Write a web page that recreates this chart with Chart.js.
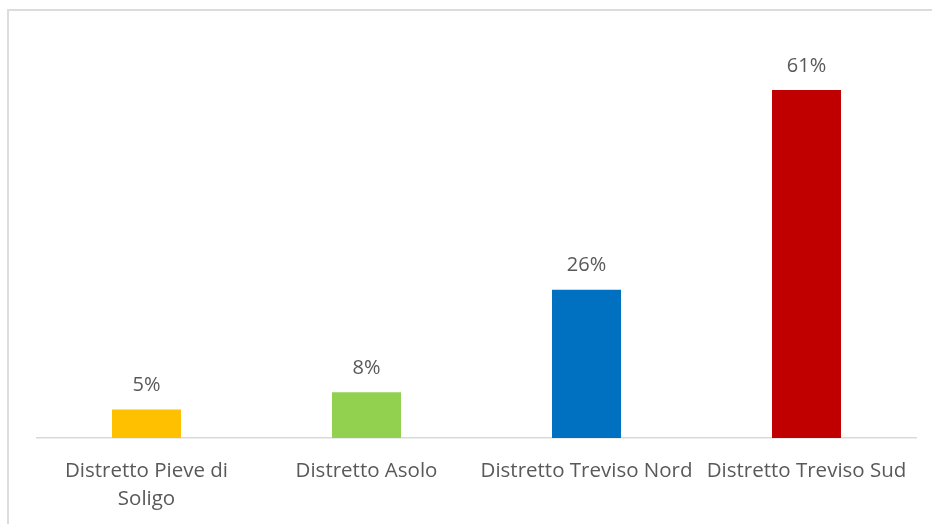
<!DOCTYPE html>
<html>
<head>
<meta charset="utf-8">
<script src="https://cdn.jsdelivr.net/npm/chart.js@4/dist/chart.umd.min.js"></script>
<style>
  html, body { margin: 0; padding: 0; background: #fff; overflow: hidden; }
  .frame {
    position: absolute; left: 7px; top: 9px; width: 960px; height: 560px;
    border: 2px solid #dcdcdc; box-sizing: border-box;
  }
  .wrap { position: absolute; left: 0; top: 0; width: 932px; height: 524px; }
</style>
</head>
<body>
<div class="frame"></div>
<div class="wrap"><canvas id="distrettiChart"></canvas></div>
<script>
const categories = [
  ["Distretto Pieve di", "Soligo"],
  "Distretto Asolo",
  "Distretto Treviso Nord",
  "Distretto Treviso Sud",
];
const shares = [5, 8, 26, 61];
const barColors = ["#FFC000", "#92D050", "#0070C0", "#C00000"];

const FONT = "'Open Sans', sans-serif";
const TEXT = "#595959";

// percent labels above each bar
const valueLabels = {
  id: "valueLabels",
  afterDatasetsDraw(chart) {
    const c = chart.ctx;
    const meta = chart.getDatasetMeta(0);
    c.save();
    c.font = "20px " + FONT;
    c.fillStyle = TEXT;
    c.textAlign = "center";
    c.textBaseline = "middle";
    meta.data.forEach((bar, i) => {
      c.fillText(shares[i] + "%", bar.x, bar.y - 24);
    });
    c.restore();
  },
};

new Chart(document.getElementById("distrettiChart"), {
  type: "bar",
  data: {
    labels: categories,
    datasets: [
      {
        data: shares,
        backgroundColor: barColors,
        borderWidth: 0,
        categoryPercentage: 1,
        barPercentage: 0.3136,
      },
    ],
  },
  options: {
    responsive: true,
    maintainAspectRatio: false,
    animation: false,
    layout: {
      padding: { left: 36.5, right: 15.5, top: 38.7, bottom: 0 },
    },
    scales: {
      y: {
        display: false,
        min: 0,
        max: 70,
      },
      x: {
        grid: { display: false, drawTicks: false },
        border: { display: true, color: "#d9d9d9", width: 1.5 },
        ticks: {
          color: TEXT,
          font: { family: FONT, size: 20.5, lineHeight: 1.33 },
          padding: 20,
          maxRotation: 0,
          autoSkip: false,
        },
        afterFit(scale) {
          scale.height = 86;
        },
      },
    },
    plugins: {
      legend: { display: false },
      tooltip: { enabled: false },
    },
  },
  plugins: [valueLabels],
});
</script>
</body>
</html>
